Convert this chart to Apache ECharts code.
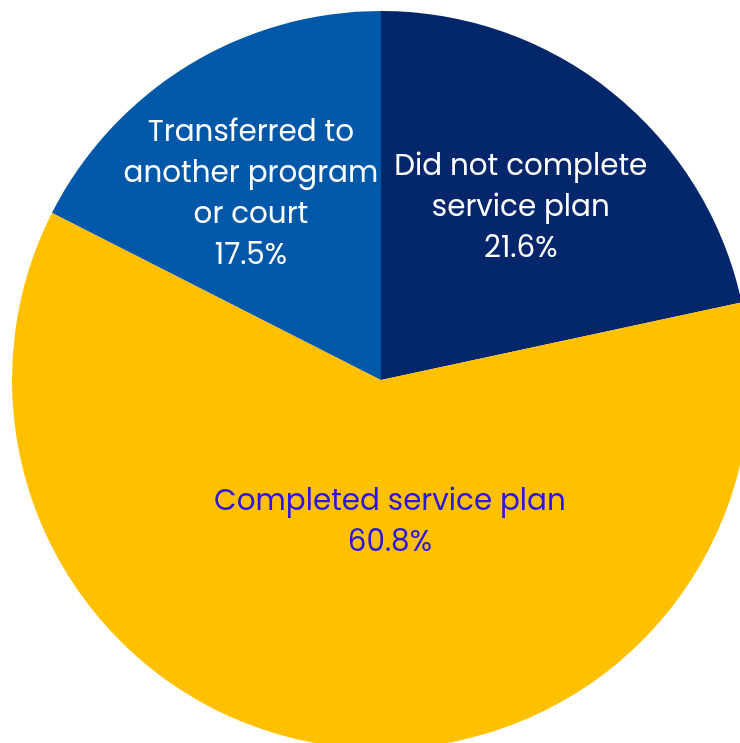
<!DOCTYPE html>
<html>
<head>
<meta charset="utf-8">
<script src="https://cdn.jsdelivr.net/npm/echarts@6/dist/echarts.min.js"></script>
<style>
  html, body { margin: 0; padding: 0; background: #fff; }
  #chart { width: 740px; height: 743px; }
</style>
</head>
<body>
<div id="chart"></div>
<script>
const categories = ["Did not complete\nservice plan", "Completed service plan", "Transferred to\nanother program\nor court"]
const values = [21.6, 60.8, 17.5]
const colors = ["#04266b", "#ffc000", "#0157a8"]
const labelColors = ["#ffffff", "#2b14e4", "#ffffff"]
const labelOffsets = [[22, -25], [33, -43], [-32, -25]]

const myChart = echarts.init(document.getElementById("chart"))
myChart.setOption({
    animation: false,
    series: [
        {
            type: "pie",
            center: [381, 380],
            radius: [0, 369],
            startAngle: 90,
            clockwise: true,
            silent: true,
            data: categories.map((name, i) => ({
                name: name,
                value: values[i],
                itemStyle: { color: colors[i] },
                label: { color: labelColors[i], offset: labelOffsets[i] }
            })),
            label: {
                show: true,
                position: "inside",
                fontFamily: "Poppins, Lato, 'Open Sans', sans-serif",
                fontSize: 29.4,
                lineHeight: 41,
                align: "center",
                formatter: p => p.name + "\n" + p.value.toFixed(1) + "%"
            },
            labelLine: { show: false },
            itemStyle: { borderWidth: 0 }
        }
    ]
})
</script>
</body>
</html>
